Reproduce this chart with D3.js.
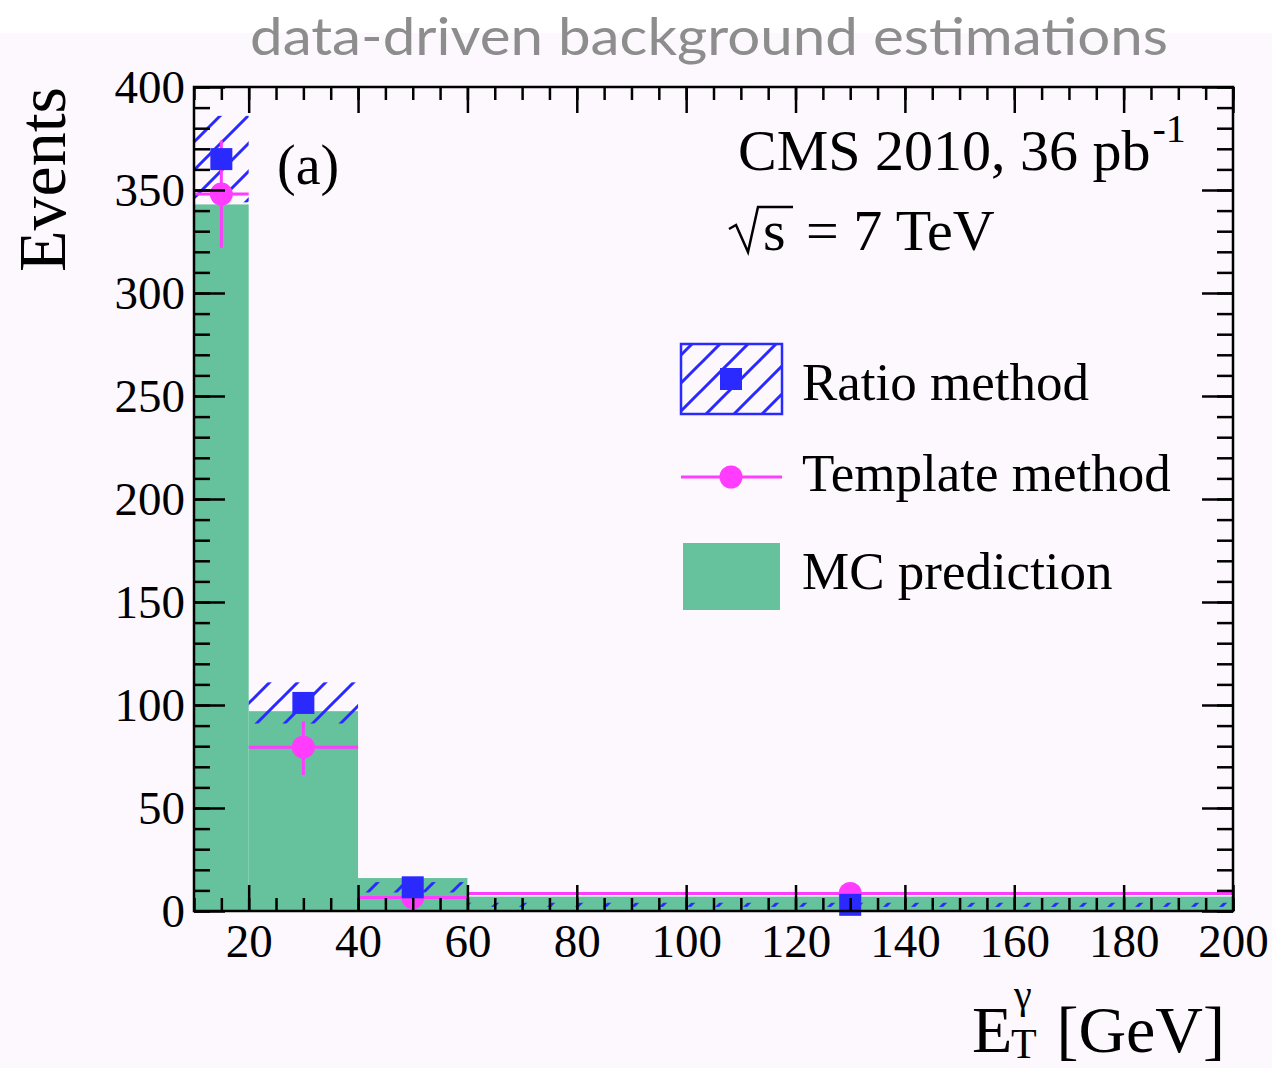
<!DOCTYPE html>
<html>
<head>
<meta charset="utf-8">
<script src="https://cdn.jsdelivr.net/npm/d3@7"></script>
<style>
  html, body { margin: 0; padding: 0; background: #ffffff; }
  svg { display: block; }
</style>
</head>
<body>
<svg id="chart" width="1272" height="1068"></svg>
<script>
// Bin edges in photon E_T [GeV]
const binEdges = [10, 20, 40, 60, 200];
// Marker positions (bin centres)
const binCentres = [15, 30, 50, 130];
// MC prediction per bin
const mcValues = [343, 97, 16, 7];
// Ratio method: central value and uncertainty band
const ratioValues = [365, 101, 11.5, 3];
const ratioLow = [344, 91, 9, 2];
const ratioHigh = [386, 111, 14, 4];
// Template method: central value and vertical error
const templateValues = [348, 79.5, 6.5, 8.5];
const templateLow = [322, 66, 5, 7.5];
const templateHigh = [374, 92, 8, 9.5];
// Axis ticks
const xMajorTicks = [20, 40, 60, 80, 100, 120, 140, 160, 180, 200];
const yMajorTicks = [0, 50, 100, 150, 200, 250, 300, 350, 400];
const legendLabels = ["Ratio method", "Template method", "MC prediction"];

const serif = "'Liberation Serif', 'Times New Roman', serif";
const green = "#66c29c";
const blue = "#2a2aff";
const pink = "#ff3cff";

const svg = d3.select("#chart");

// page background: white strip on top, faint pink below
svg.append("rect").attr("x", 0).attr("y", 0).attr("width", 1272).attr("height", 1068).attr("fill", "#ffffff");
svg.append("rect").attr("x", 0).attr("y", 33).attr("width", 1272).attr("height", 1035).attr("fill", "#fdf8fd");

// headline
svg.append("text")
  .attr("x", 250).attr("y", 55)
  .attr("textLength", 918).attr("lengthAdjust", "spacingAndGlyphs")
  .attr("font-family", "Lato, 'Open Sans', sans-serif")
  .attr("font-size", 52)
  .attr("fill", "#8d8d8d")
  .text("data-driven background estimations");

const x = d3.scaleLinear().domain([10, 200]).range([194, 1233]);
const y = d3.scaleLinear().domain([0, 400]).range([911, 87]);

// hatch pattern anchored to the page so bands line up
const defs = svg.append("defs");
const pat = defs.append("pattern")
  .attr("id", "hatch")
  .attr("patternUnits", "userSpaceOnUse")
  .attr("width", 28).attr("height", 28);
pat.append("path")
  .attr("d", "M-7,7 L7,-7 M0,28 L28,0 M21,35 L35,21")
  .attr("stroke", blue).attr("stroke-width", 3).attr("fill", "none");

const bins = mcValues.map((v, i) => ({
  x0: binEdges[i], x1: binEdges[i + 1], xc: binCentres[i],
  mc: v,
  r: ratioValues[i], rLo: ratioLow[i], rHi: ratioHigh[i],
  t: templateValues[i], tLo: templateLow[i], tHi: templateHigh[i]
}));

const plot = svg.append("g");

// MC prediction histogram
plot.selectAll("rect.mc").data(bins).join("rect")
  .attr("class", "mc")
  .attr("x", d => x(d.x0))
  .attr("width", d => x(d.x1) - x(d.x0))
  .attr("y", d => y(d.mc))
  .attr("height", d => y(0) - y(d.mc))
  .attr("fill", green);

// ratio method uncertainty band
plot.selectAll("rect.band").data(bins).join("rect")
  .attr("class", "band")
  .attr("x", d => x(d.x0))
  .attr("width", d => x(d.x1) - x(d.x0))
  .attr("y", d => y(d.rHi))
  .attr("height", d => y(d.rLo) - y(d.rHi))
  .attr("fill", "url(#hatch)");

// template method: horizontal and vertical error bars
plot.selectAll("line.th").data(bins).join("line")
  .attr("class", "th")
  .attr("x1", d => x(d.x0)).attr("x2", d => x(d.x1))
  .attr("y1", d => y(d.t)).attr("y2", d => y(d.t))
  .attr("stroke", pink).attr("stroke-width", 3);
plot.selectAll("line.tv").data(bins).join("line")
  .attr("class", "tv")
  .attr("x1", d => x(d.xc)).attr("x2", d => x(d.xc))
  .attr("y1", d => y(d.tLo)).attr("y2", d => y(d.tHi))
  .attr("stroke", pink).attr("stroke-width", 3);
plot.selectAll("circle.tm").data(bins).join("circle")
  .attr("class", "tm")
  .attr("cx", d => x(d.xc)).attr("cy", d => y(d.t))
  .attr("r", 11.5).attr("fill", pink);

// ratio method markers
const sq = 22;
plot.selectAll("rect.rm").data(bins).join("rect")
  .attr("class", "rm")
  .attr("x", d => x(d.xc) - sq / 2).attr("y", d => y(d.r) - sq / 2)
  .attr("width", sq).attr("height", sq)
  .attr("fill", blue);

// axes: major/minor ticks pointing inward on all four sides
const axisG = svg.append("g").attr("font-family", serif);
const xMinor = d3.range(10, 200.1, 5);
const yMinor = d3.range(0, 400.1, 10);

function styleAxis(g) {
  g.attr("font-family", serif);
  g.select(".domain").remove();
  g.selectAll(".tick line").attr("stroke", "#000").attr("stroke-width", 2.5);
  g.selectAll(".tick text").attr("fill", "#000").attr("font-size", 47).attr("font-family", serif);
}

axisG.append("g").attr("transform", `translate(0,${y(0)})`)
  .call(d3.axisBottom(x).tickValues(xMinor).tickSize(-13).tickFormat(""))
  .call(styleAxis);
axisG.append("g").attr("transform", `translate(0,${y(0)})`)
  .call(d3.axisBottom(x).tickValues(xMajorTicks).tickSize(-26).tickPadding(13).tickFormat(d3.format("d")))
  .call(styleAxis);
axisG.append("g").attr("transform", `translate(0,${y(400)})`)
  .call(d3.axisTop(x).tickValues(xMinor).tickSize(-13).tickFormat(""))
  .call(styleAxis);
axisG.append("g").attr("transform", `translate(0,${y(400)})`)
  .call(d3.axisTop(x).tickValues(xMajorTicks).tickSize(-26).tickFormat(""))
  .call(styleAxis);

axisG.append("g").attr("transform", `translate(${x(10)},0)`)
  .call(d3.axisLeft(y).tickValues(yMinor).tickSize(-16).tickFormat(""))
  .call(styleAxis);
axisG.append("g").attr("transform", `translate(${x(10)},0)`)
  .call(d3.axisLeft(y).tickValues(yMajorTicks).tickSize(-31).tickPadding(9).tickFormat(d3.format("d")))
  .call(styleAxis);
axisG.append("g").attr("transform", `translate(${x(200)},0)`)
  .call(d3.axisRight(y).tickValues(yMinor).tickSize(-16).tickFormat(""))
  .call(styleAxis);
axisG.append("g").attr("transform", `translate(${x(200)},0)`)
  .call(d3.axisRight(y).tickValues(yMajorTicks).tickSize(-31).tickFormat(""))
  .call(styleAxis);

// frame
svg.append("rect")
  .attr("x", x(10)).attr("y", y(400))
  .attr("width", x(200) - x(10)).attr("height", y(0) - y(400))
  .attr("fill", "none").attr("stroke", "#000").attr("stroke-width", 2.5);

// axis titles
svg.append("text")
  .attr("transform", "translate(65,87) rotate(-90)")
  .attr("text-anchor", "end")
  .attr("font-family", serif).attr("font-size", 68)
  .text("Events");

const xt = svg.append("g").attr("font-family", serif).attr("fill", "#000");
xt.append("text").attr("x", 972).attr("y", 1052).attr("font-size", 66).text("E");
xt.append("text").attr("x", 1011).attr("y", 1058).attr("font-size", 42).text("T");
xt.append("text").attr("x", 1014).attr("y", 1008).attr("font-size", 40).text("γ");
xt.append("text").attr("x", 1225).attr("y", 1052).attr("text-anchor", "end").attr("font-size", 66).text("[GeV]");

// annotations
const ann = svg.append("g").attr("font-family", serif).attr("fill", "#000");
ann.append("text").attr("x", 277).attr("y", 184).attr("font-size", 56).text("(a)");
const cms = ann.append("text").attr("x", 738).attr("y", 170).attr("font-size", 58).text("CMS 2010, 36 pb");
const cmsEnd = 738 + cms.node().getComputedTextLength();
ann.append("text").attr("x", cmsEnd + 2).attr("y", 142).attr("font-size", 40).text("-1");

// sqrt(s) = 7 TeV with a drawn radical
ann.append("path")
  .attr("d", "M729,229 L736,225 L748,252 L758,207 L793,207")
  .attr("fill", "none").attr("stroke", "#000").attr("stroke-width", 2.5)
  .attr("stroke-linejoin", "miter");
ann.append("text").attr("x", 763).attr("y", 250).attr("font-size", 58).text("s");
ann.append("text").attr("x", 806).attr("y", 250).attr("font-size", 58).text("= 7 TeV");

// legend
const leg = svg.append("g");
leg.append("rect")
  .attr("x", 681).attr("y", 344).attr("width", 101).attr("height", 70)
  .attr("fill", "url(#hatch)").attr("stroke", blue).attr("stroke-width", 2.5);
leg.append("rect")
  .attr("x", 731 - sq / 2).attr("y", 379 - sq / 2).attr("width", sq).attr("height", sq)
  .attr("fill", blue);
leg.append("line")
  .attr("x1", 681).attr("x2", 782).attr("y1", 477).attr("y2", 477)
  .attr("stroke", pink).attr("stroke-width", 3);
leg.append("circle").attr("cx", 731).attr("cy", 477).attr("r", 11.5).attr("fill", pink);
leg.append("rect")
  .attr("x", 683).attr("y", 543).attr("width", 97).attr("height", 67)
  .attr("fill", green);

leg.selectAll("text.lab").data(legendLabels).join("text")
  .attr("class", "lab")
  .attr("x", 802)
  .attr("y", (d, i) => [400, 491, 589][i])
  .attr("font-family", serif).attr("font-size", 53)
  .attr("fill", "#000")
  .text(d => d);
</script>
</body>
</html>
